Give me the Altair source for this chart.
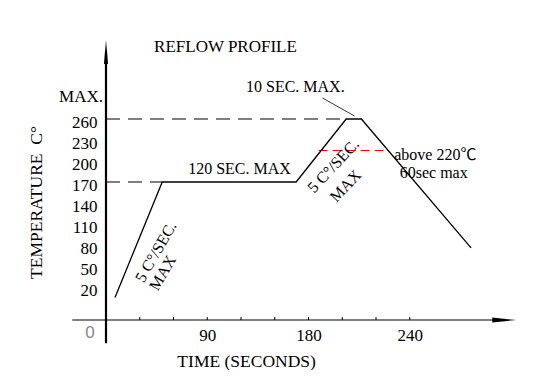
import altair as alt
import pandas as pd

# ---------------- data ----------------
# reflow profile (time axis in drawn seconds, temperature in drawn degC)
profile_time = [8, 50, 169, 213.5, 227, 324.5]
profile_temp = [5, 170, 170, 260, 260, 76]

# y axis labels
y_tick_values = [20, 50, 80, 110, 140, 170, 200, 230, 260]

# x axis labels (drawn at the 3rd, 6th and 9th minor tick)
x_tick_positions = [90, 180, 270]
x_tick_labels = ["90", "180", "240"]
x_minor_ticks = [30, 60, 90, 120, 150, 180, 210, 240, 270]

# black dashed max-temperature guides
guide_temp = [260, 170]
guide_end = [213.5, 50]

# red dashed "above 220" band
red_temp = [215]
red_start = [189]
red_end = [250]

# leader line from "10 SEC. MAX." to the peak
leader_t = [192.4]
leader_T = [290]
leader_t2 = [220.9]
leader_T2 = [264.3]

# annotations
ann_text = ["REFLOW PROFILE", "MAX.", "10 SEC. MAX.", "120 SEC. MAX",
            "above 220\u2103", "60sec max", "TIME (SECONDS)",
            "TEMPERATURE\u00a0 C\u00b0",
            "5 C\u00b0/SEC.", "MAX", "5 C\u00b0/SEC.", "MAX"]
ann_t = [106.2, -22.2, 168.3, 118.7, 292.7, 291.3, 125, -61.3,
         44.5, 50.5, 202.2, 213]
ann_T = [362.4, 291.9, 305.3, 188, 208.6, 182.4, -86.7, 140.7,
         70, 40, 192.9, 164.3]
ann_angle = [0, 0, 0, 0, 0, 0, 0, 270, 300, 300, 313, 313]
ann_size = [17, 17, 16, 16, 16, 16, 17.5, 17.5, 16, 16, 16, 16]

origin_label = ["0"]

# ---------------- scales / layout ----------------
X_DOM = [0, 360]
Y_DOM = [-27.14, 372.86]
Y_BASE = Y_DOM[0]

FONT = "Liberation Serif, 'Noto Sans CJK SC', serif"

xscale = alt.Scale(domain=X_DOM, nice=False, zero=False)
yscale = alt.Scale(domain=Y_DOM, nice=False, zero=False)

label_map = "{" + ",".join(f"'{p}':'{l}'" for p, l in zip(x_tick_positions, x_tick_labels)) + "}"

xaxis = alt.Axis(values=x_tick_positions, labelExpr=f"{label_map}[datum.value + '']",
                 domain=False, ticks=False, tickSize=0, grid=False, title=None,
                 labelFont="Liberation Serif", labelFontSize=17, labelColor="#000",
                 labelPadding=7, labelFlush=False, labelOverlap=False)
yaxis = alt.Axis(values=y_tick_values, domain=False, ticks=False, tickSize=0,
                 grid=False, title=None, labelFont="Liberation Serif", labelFontSize=17,
                 labelColor="#000", labelPadding=9, labelOffset=3,
                 labelOverlap=False, labelFlush=False)


def X(field="t"):
    return alt.X(f"{field}:Q", scale=xscale, axis=xaxis)


def Y(field="T"):
    return alt.Y(f"{field}:Q", scale=yscale, axis=yaxis)


profile_df = pd.DataFrame({"t": profile_time, "T": profile_temp, "o": range(len(profile_time))})
profile = alt.Chart(profile_df).mark_line(color="#000", strokeWidth=1.3).encode(
    x=X(), y=Y(), order="o:Q")

guides_df = pd.DataFrame({"t": [0] * len(guide_temp), "t2": guide_end, "T": guide_temp})
guides = alt.Chart(guides_df).mark_rule(color="#000", strokeWidth=1.1, strokeDash=[14, 8]).encode(
    x=X(), x2="t2:Q", y=Y())

red_df = pd.DataFrame({"t": red_start, "t2": red_end, "T": red_temp})
red = alt.Chart(red_df).mark_rule(color="#ff0000", strokeWidth=1.1, strokeDash=[9, 5]).encode(
    x=X(), x2="t2:Q", y=Y())

leader_df = pd.DataFrame({"t": leader_t, "T": leader_T, "t2": leader_t2, "T2": leader_T2})
leader = alt.Chart(leader_df).mark_rule(color="#000", strokeWidth=0.8).encode(
    x=X(), y=Y(), x2="t2:Q", y2="T2:Q")

# axes drawn as rules with arrowheads
xline_df = pd.DataFrame({"t": [-30], "t2": [354], "T": [Y_BASE]})
xline = alt.Chart(xline_df).mark_rule(color="#000", strokeWidth=1.1).encode(
    x=X(), x2="t2:Q", y=Y())
xarrow_df = pd.DataFrame({"t": [354], "T": [Y_BASE]})
xarrow = alt.Chart(xarrow_df).mark_point(
    shape="M1,0L-1,-0.2L-1,0.2Z", size=576, filled=True, color="#000", opacity=1).encode(
    x=X(), y=Y())

yline_df = pd.DataFrame({"t": [0], "T": [-60.4], "T2": [355.7]})
yline = alt.Chart(yline_df).mark_rule(color="#000", strokeWidth=2.2).encode(
    x=X(), y=Y(), y2="T2:Q")
yarrow_df = pd.DataFrame({"t": [0], "T": [355.7]})
yarrow = alt.Chart(yarrow_df).mark_point(
    shape="M0,-1L0.17,1L-0.17,1Z", size=576, filled=True, color="#000", opacity=1).encode(
    x=X(), y=Y())

ticks_df = pd.DataFrame({"t": x_minor_ticks, "T": [Y_BASE] * len(x_minor_ticks),
                         "T2": [Y_BASE + 4.3] * len(x_minor_ticks)})
ticks = alt.Chart(ticks_df).mark_rule(color="#000", strokeWidth=1).encode(
    x=X(), y=Y(), y2="T2:Q")

ann_df = pd.DataFrame({"t": ann_t, "T": ann_T, "label": ann_text,
                       "angle": ann_angle, "fs": ann_size})
ann = alt.Chart(ann_df).mark_text(font=FONT, color="#000", align="center", baseline="middle").encode(
    x=X(), y=Y(), text="label:N",
    angle=alt.Angle("angle:Q", scale=None),
    size=alt.Size("fs:Q", scale=None, legend=None))

origin_df = pd.DataFrame({"t": [-14.2], "T": [-45.7], "label": origin_label})
origin = alt.Chart(origin_df).mark_text(font="Liberation Sans", fontSize=17, color="#888",
                                        align="center", baseline="middle").encode(
    x=X(), y=Y(), text="label:N")

chart = alt.layer(
    guides, red, profile, leader, xline, xarrow, ticks, yline, yarrow, ann, origin
).properties(
    width=405, height=280,
    autosize=alt.AutoSizeParams(type="none"),
    padding={"left": 98, "top": 32, "right": 20, "bottom": 50},
    background="white",
).configure_view(stroke=None)

chart.save("out.html", embed_options={"renderer": "svg", "actions": False})
